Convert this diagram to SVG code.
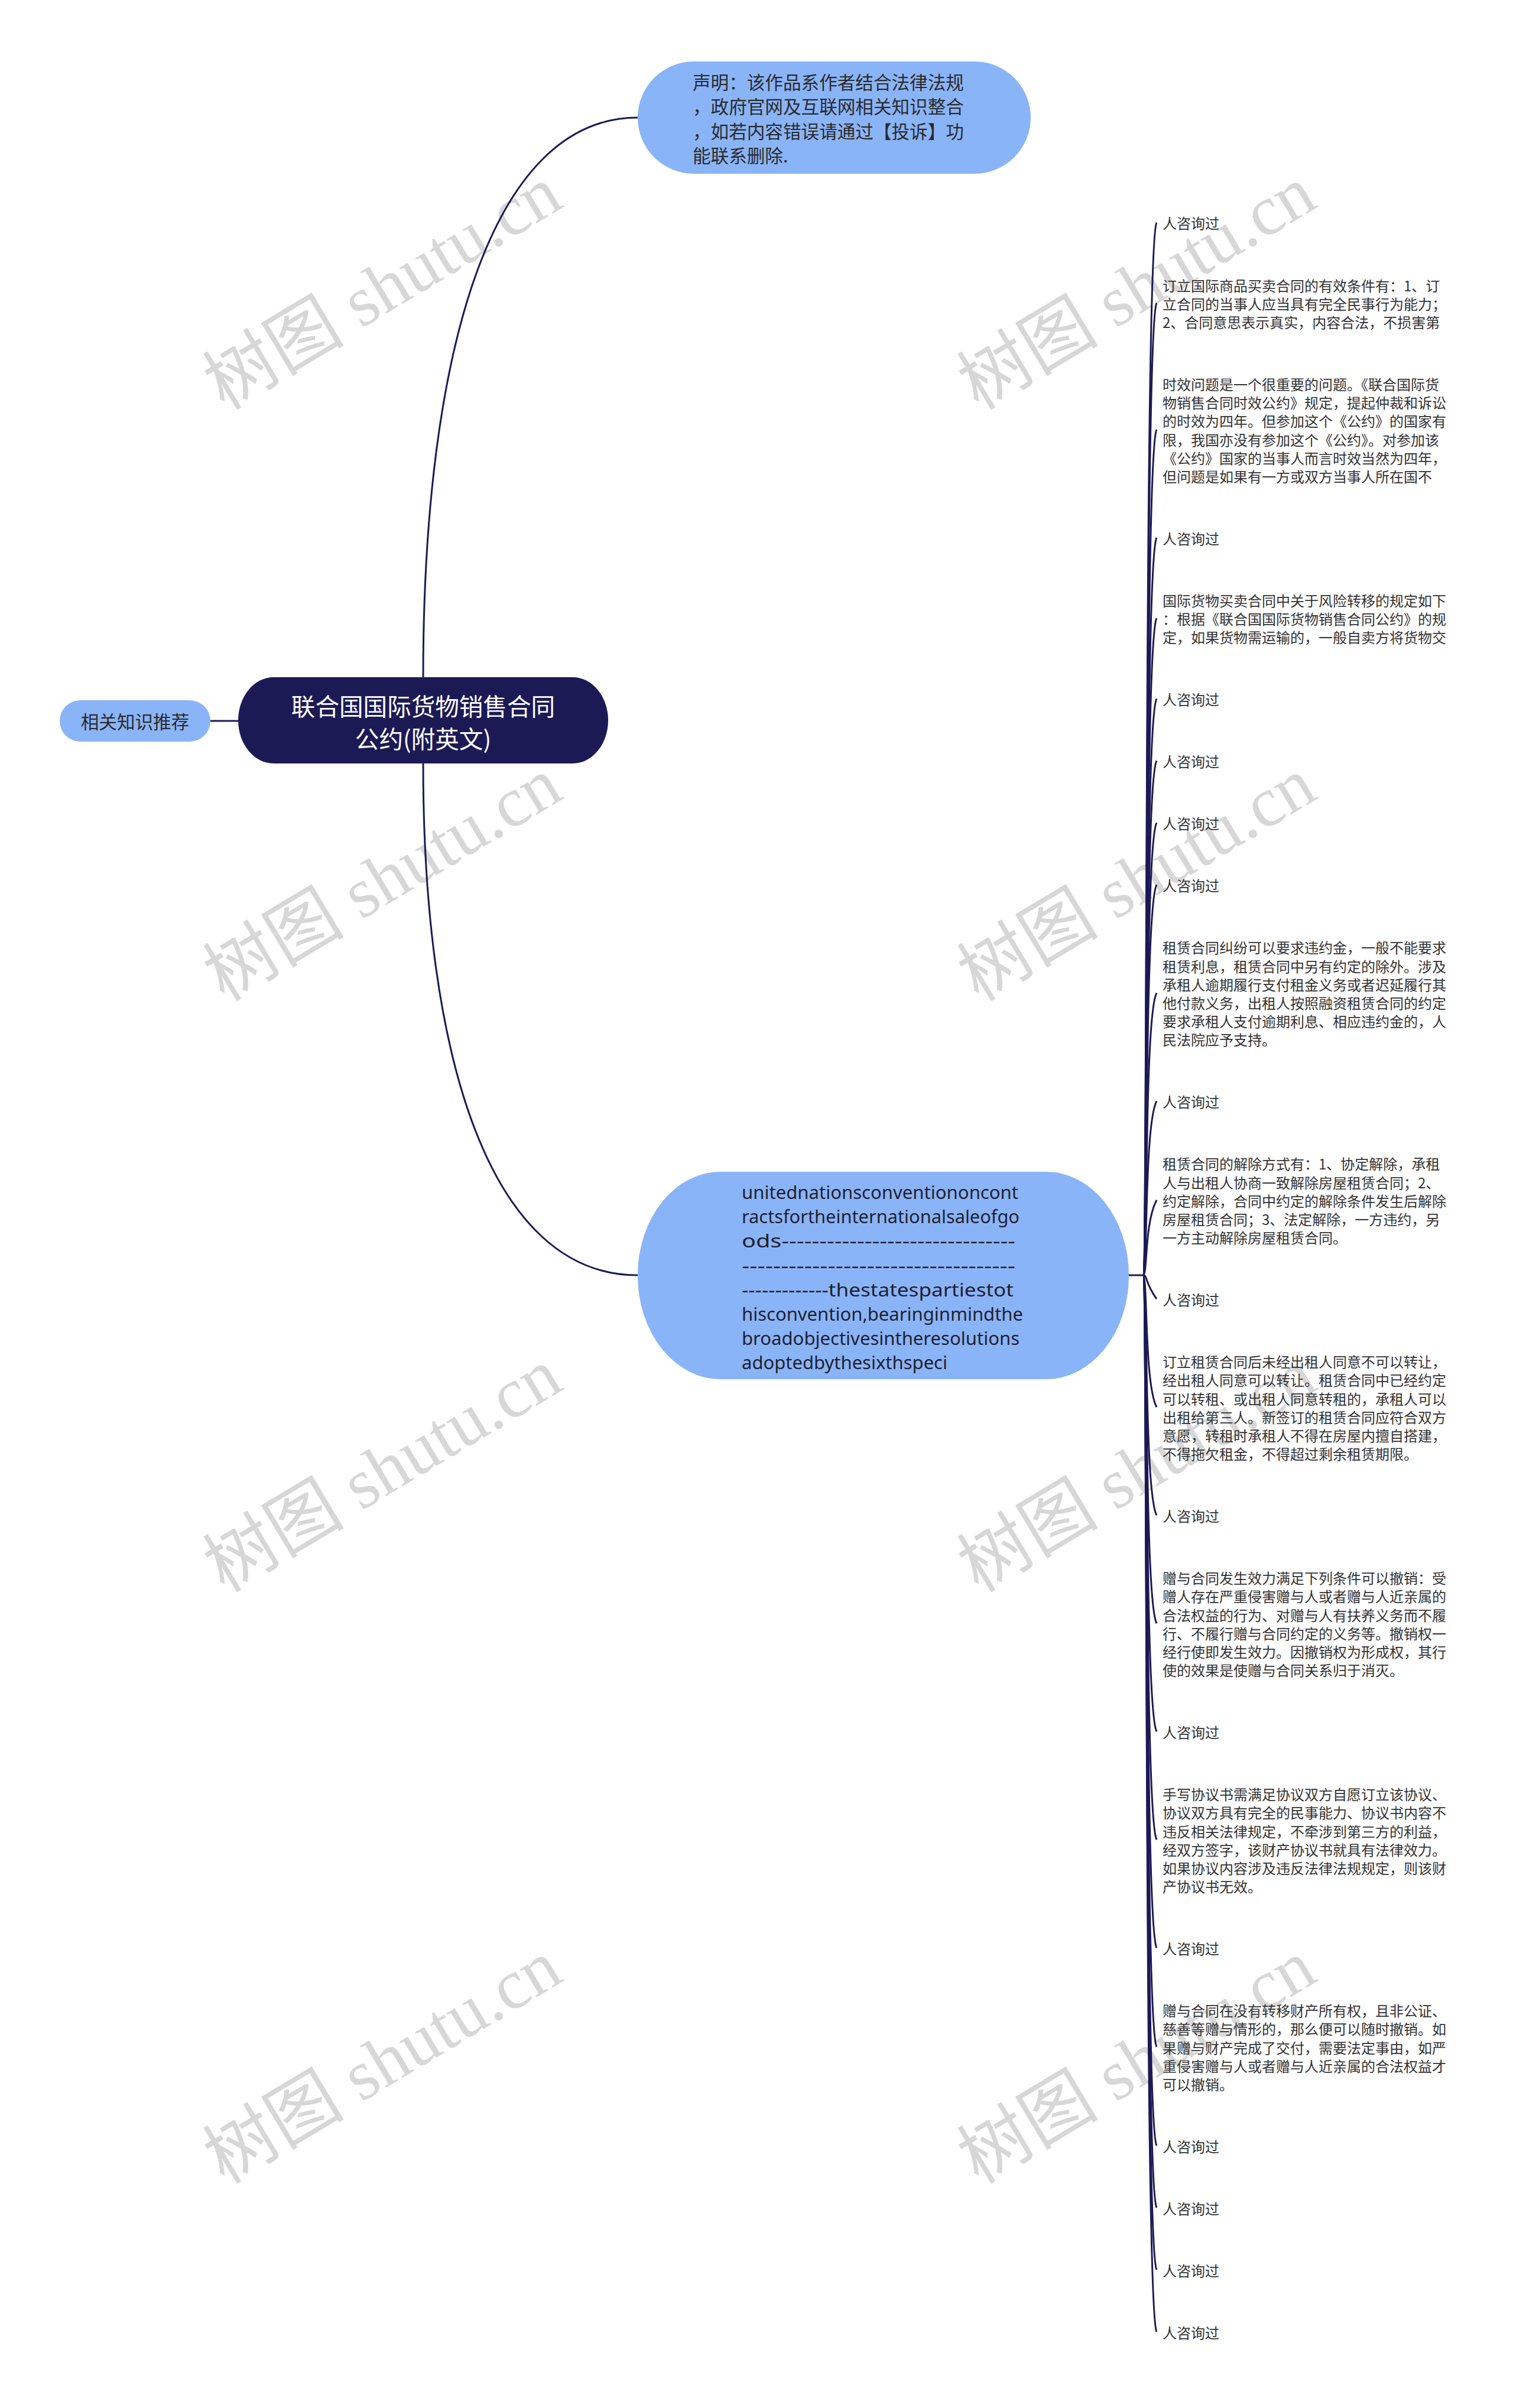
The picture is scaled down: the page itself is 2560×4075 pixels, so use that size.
<svg xmlns="http://www.w3.org/2000/svg" width="2560" height="4075" viewBox="0 0 2560 4075">
<style>
.wm{font-family:"Liberation Serif","Noto Sans CJK SC",serif;font-size:120px;fill:#d7d7d7}
.edge{fill:none;stroke:#1c1a55;stroke-width:3}
.lb{fill:#8ab4f8}
.t{font-family:"Noto Sans CJK SC","Noto Sans",sans-serif;dominant-baseline:central}
.leaf{font-size:24px;fill:#333}
.mid{font-size:30.6px;fill:#2a2a2a}
.en{font-family:"Noto Sans","Noto Sans CJK SC",sans-serif;font-size:30px;fill:#1f1f2e;dominant-baseline:central}
.root{font-size:40.6px;fill:#ffffff}
</style>
<rect x="0" y="0" width="2560" height="4075" fill="#ffffff"/>
<g id="watermarks">
<text class="wm" text-anchor="middle" transform="translate(668,522) rotate(-31)">树图 shutu.cn</text>
<text class="wm" text-anchor="middle" transform="translate(668,1523) rotate(-31)">树图 shutu.cn</text>
<text class="wm" text-anchor="middle" transform="translate(668,2523) rotate(-31)">树图 shutu.cn</text>
<text class="wm" text-anchor="middle" transform="translate(668,3524) rotate(-31)">树图 shutu.cn</text>
<text class="wm" text-anchor="middle" transform="translate(1944,522) rotate(-31)">树图 shutu.cn</text>
<text class="wm" text-anchor="middle" transform="translate(1944,1523) rotate(-31)">树图 shutu.cn</text>
<text class="wm" text-anchor="middle" transform="translate(1944,2523) rotate(-31)">树图 shutu.cn</text>
<text class="wm" text-anchor="middle" transform="translate(1944,3524) rotate(-31)">树图 shutu.cn</text>
</g>
<g id="connectors">
<path class="edge" d="M716 1146 C716 600 830 199 1079 199"/>
<path class="edge" d="M716 1292 C716 1792 830 2158 1079 2158"/>
<path class="edge" d="M403 1220 L356 1220"/>
<path class="edge" d="M1910 2158 L1934 2158"/>
<path class="edge" d="M1934 2158 C1942 2158 1936 416.6 1957 376.6"/>
<path class="edge" d="M1934 2158 C1942 2158 1936 552.8 1957 512.8"/>
<path class="edge" d="M1934 2158 C1942 2158 1936 767 1957 727"/>
<path class="edge" d="M1934 2158 C1942 2158 1936 950 1957 910"/>
<path class="edge" d="M1934 2158 C1942 2158 1936 1086.2 1957 1046.2"/>
<path class="edge" d="M1934 2158 C1942 2158 1936 1222.4 1957 1182.4"/>
<path class="edge" d="M1934 2158 C1942 2158 1936 1327.4 1957 1287.4"/>
<path class="edge" d="M1934 2158 C1942 2158 1936 1432.4 1957 1392.4"/>
<path class="edge" d="M1934 2158 C1942 2158 1936 1537.4 1957 1497.4"/>
<path class="edge" d="M1934 2158 C1942 2158 1936 1720.4 1957 1680.4"/>
<path class="edge" d="M1934 2158 C1942 2158 1936 1903.4 1957 1863.4"/>
<path class="edge" d="M1934 2158 C1942 2158 1936 2070.8 1957 2030.8"/>
<path class="edge" d="M1934 2158 C1942 2158 1936 2168.2 1957 2198.2"/>
<path class="edge" d="M1934 2158 C1942 2158 1936 2341.2 1957 2381.2"/>
<path class="edge" d="M1934 2158 C1942 2158 1936 2524.2 1957 2564.2"/>
<path class="edge" d="M1934 2158 C1942 2158 1936 2707.2 1957 2747.2"/>
<path class="edge" d="M1934 2158 C1942 2158 1936 2890.2 1957 2930.2"/>
<path class="edge" d="M1934 2158 C1942 2158 1936 3073.2 1957 3113.2"/>
<path class="edge" d="M1934 2158 C1942 2158 1936 3256.2 1957 3296.2"/>
<path class="edge" d="M1934 2158 C1942 2158 1936 3423.6 1957 3463.6"/>
<path class="edge" d="M1934 2158 C1942 2158 1936 3591 1957 3631"/>
<path class="edge" d="M1934 2158 C1942 2158 1936 3696 1957 3736"/>
<path class="edge" d="M1934 2158 C1942 2158 1936 3801 1957 3841"/>
<path class="edge" d="M1934 2158 C1942 2158 1936 3906 1957 3946"/>
</g>
<g id="root">
<rect x="403" y="1146" width="626" height="146" rx="60" ry="73" fill="#1c1a55"/>
<text class="t root" text-anchor="middle"><tspan x="716" y="1193">联合国国际货物销售合同</tspan><tspan x="716" y="1248">公约(附英文)</tspan></text>
</g>
<g id="related">
<rect class="lb" x="101" y="1185" width="255" height="70" rx="35" ry="35"/>
<text class="t mid" x="228.5" y="1220" text-anchor="middle">相关知识推荐</text>
</g>
<g id="statement">
<rect class="lb" x="1079" y="104" width="665" height="190" rx="95" ry="95"/>
<text class="t mid"><tspan x="1172" y="138">声明：该作品系作者结合法律法规</tspan><tspan x="1172" y="179.3">，政府官网及互联网相关知识整合</tspan><tspan x="1172" y="220.6">，如若内容错误请通过【投诉】功</tspan><tspan x="1172" y="261.9">能联系删除.</tspan></text>
</g>
<g id="english">
<rect class="lb" x="1079" y="1983" width="831" height="351" rx="140" ry="175"/>
<text class="en"><tspan x="1255" y="2017" textLength="468" lengthAdjust="spacingAndGlyphs">unitednationsconventiononcont</tspan><tspan x="1255" y="2058.2" textLength="470" lengthAdjust="spacingAndGlyphs">ractsfortheinternationalsaleofgo</tspan><tspan x="1255" y="2099.4" textLength="463" lengthAdjust="spacingAndGlyphs">ods-------------------------------</tspan><tspan x="1255" y="2140.6" textLength="463" lengthAdjust="spacingAndGlyphs">-----------------------------------</tspan><tspan x="1255" y="2181.8" textLength="460" lengthAdjust="spacingAndGlyphs">-------------thestatespartiestot</tspan><tspan x="1255" y="2223" textLength="476" lengthAdjust="spacingAndGlyphs">hisconvention,bearinginmindthe</tspan><tspan x="1255" y="2264.2" textLength="470" lengthAdjust="spacingAndGlyphs">broadobjectivesintheresolutions</tspan><tspan x="1255" y="2305.4" textLength="348" lengthAdjust="spacingAndGlyphs">adoptedbythesixthspeci</tspan></text>
</g>
<g id="leaf-1"><text class="t leaf" x="1967" y="376.6">人咨询过</text></g>
<g id="leaf-2"><text class="t leaf"><tspan x="1967" y="481.6">订立国际商品买卖合同的有效条件有：1、订</tspan><tspan x="1967" y="512.8">立合同的当事人应当具有完全民事行为能力；</tspan><tspan x="1967" y="544">2、合同意思表示真实，内容合法，不损害第</tspan></text></g>
<g id="leaf-3"><text class="t leaf"><tspan x="1967" y="649">时效问题是一个很重要的问题。《联合国际货</tspan><tspan x="1967" y="680.2">物销售合同时效公约》规定，提起仲裁和诉讼</tspan><tspan x="1967" y="711.4">的时效为四年。但参加这个《公约》的国家有</tspan><tspan x="1967" y="742.6">限，我国亦没有参加这个《公约》。对参加该</tspan><tspan x="1967" y="773.8">《公约》国家的当事人而言时效当然为四年，</tspan><tspan x="1967" y="805">但问题是如果有一方或双方当事人所在国不</tspan></text></g>
<g id="leaf-4"><text class="t leaf" x="1967" y="910">人咨询过</text></g>
<g id="leaf-5"><text class="t leaf"><tspan x="1967" y="1015">国际货物买卖合同中关于风险转移的规定如下</tspan><tspan x="1967" y="1046.2">：根据《联合国国际货物销售合同公约》的规</tspan><tspan x="1967" y="1077.4">定，如果货物需运输的，一般自卖方将货物交</tspan></text></g>
<g id="leaf-6"><text class="t leaf" x="1967" y="1182.4">人咨询过</text></g>
<g id="leaf-7"><text class="t leaf" x="1967" y="1287.4">人咨询过</text></g>
<g id="leaf-8"><text class="t leaf" x="1967" y="1392.4">人咨询过</text></g>
<g id="leaf-9"><text class="t leaf" x="1967" y="1497.4">人咨询过</text></g>
<g id="leaf-10"><text class="t leaf"><tspan x="1967" y="1602.4">租赁合同纠纷可以要求违约金，一般不能要求</tspan><tspan x="1967" y="1633.6">租赁利息，租赁合同中另有约定的除外。涉及</tspan><tspan x="1967" y="1664.8">承租人逾期履行支付租金义务或者迟延履行其</tspan><tspan x="1967" y="1696">他付款义务，出租人按照融资租赁合同的约定</tspan><tspan x="1967" y="1727.2">要求承租人支付逾期利息、相应违约金的，人</tspan><tspan x="1967" y="1758.4">民法院应予支持。</tspan></text></g>
<g id="leaf-11"><text class="t leaf" x="1967" y="1863.4">人咨询过</text></g>
<g id="leaf-12"><text class="t leaf"><tspan x="1967" y="1968.4">租赁合同的解除方式有：1、协定解除，承租</tspan><tspan x="1967" y="1999.6">人与出租人协商一致解除房屋租赁合同；2、</tspan><tspan x="1967" y="2030.8">约定解除，合同中约定的解除条件发生后解除</tspan><tspan x="1967" y="2062">房屋租赁合同；3、法定解除，一方违约，另</tspan><tspan x="1967" y="2093.2">一方主动解除房屋租赁合同。</tspan></text></g>
<g id="leaf-13"><text class="t leaf" x="1967" y="2198.2">人咨询过</text></g>
<g id="leaf-14"><text class="t leaf"><tspan x="1967" y="2303.2">订立租赁合同后未经出租人同意不可以转让，</tspan><tspan x="1967" y="2334.4">经出租人同意可以转让。租赁合同中已经约定</tspan><tspan x="1967" y="2365.6">可以转租、或出租人同意转租的，承租人可以</tspan><tspan x="1967" y="2396.8">出租给第三人。新签订的租赁合同应符合双方</tspan><tspan x="1967" y="2428">意愿，转租时承租人不得在房屋内擅自搭建，</tspan><tspan x="1967" y="2459.2">不得拖欠租金，不得超过剩余租赁期限。</tspan></text></g>
<g id="leaf-15"><text class="t leaf" x="1967" y="2564.2">人咨询过</text></g>
<g id="leaf-16"><text class="t leaf"><tspan x="1967" y="2669.2">赠与合同发生效力满足下列条件可以撤销：受</tspan><tspan x="1967" y="2700.4">赠人存在严重侵害赠与人或者赠与人近亲属的</tspan><tspan x="1967" y="2731.6">合法权益的行为、对赠与人有扶养义务而不履</tspan><tspan x="1967" y="2762.8">行、不履行赠与合同约定的义务等。撤销权一</tspan><tspan x="1967" y="2794">经行使即发生效力。因撤销权为形成权，其行</tspan><tspan x="1967" y="2825.2">使的效果是使赠与合同关系归于消灭。</tspan></text></g>
<g id="leaf-17"><text class="t leaf" x="1967" y="2930.2">人咨询过</text></g>
<g id="leaf-18"><text class="t leaf"><tspan x="1967" y="3035.2">手写协议书需满足协议双方自愿订立该协议、</tspan><tspan x="1967" y="3066.4">协议双方具有完全的民事能力、协议书内容不</tspan><tspan x="1967" y="3097.6">违反相关法律规定，不牵涉到第三方的利益，</tspan><tspan x="1967" y="3128.8">经双方签字，该财产协议书就具有法律效力。</tspan><tspan x="1967" y="3160">如果协议内容涉及违反法律法规规定，则该财</tspan><tspan x="1967" y="3191.2">产协议书无效。</tspan></text></g>
<g id="leaf-19"><text class="t leaf" x="1967" y="3296.2">人咨询过</text></g>
<g id="leaf-20"><text class="t leaf"><tspan x="1967" y="3401.2">赠与合同在没有转移财产所有权，且非公证、</tspan><tspan x="1967" y="3432.4">慈善等赠与情形的，那么便可以随时撤销。如</tspan><tspan x="1967" y="3463.6">果赠与财产完成了交付，需要法定事由，如严</tspan><tspan x="1967" y="3494.8">重侵害赠与人或者赠与人近亲属的合法权益才</tspan><tspan x="1967" y="3526">可以撤销。</tspan></text></g>
<g id="leaf-21"><text class="t leaf" x="1967" y="3631">人咨询过</text></g>
<g id="leaf-22"><text class="t leaf" x="1967" y="3736">人咨询过</text></g>
<g id="leaf-23"><text class="t leaf" x="1967" y="3841">人咨询过</text></g>
<g id="leaf-24"><text class="t leaf" x="1967" y="3946">人咨询过</text></g>
</svg>
